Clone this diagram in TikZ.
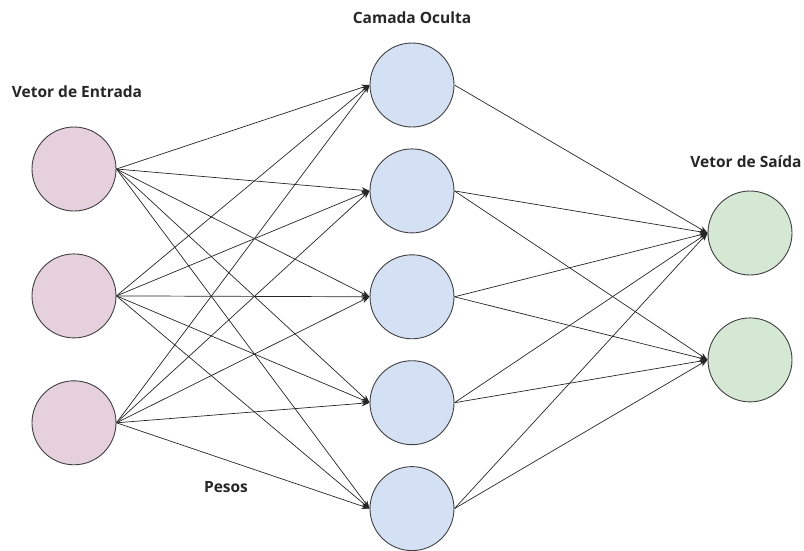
\documentclass[tikz,border=0pt]{standalone}
\usepackage{fontspec}
\setmainfont{Open Sans}
\usetikzlibrary{arrows.meta, positioning}

\definecolor{inpink}{HTML}{E6D0DE}
\definecolor{hidblue}{HTML}{D4E1F5}
\definecolor{outgreen}{HTML}{D5E8D4}

\begin{document}
\begin{tikzpicture}[
    x=1pt, y=-1pt,
    neuron/.style={draw=black!75, circle, minimum size=84pt, inner sep=0pt, line width=0.9pt},
    inp/.style={neuron, fill=inpink},
    hid/.style={neuron, fill=hidblue},
    outp/.style={neuron, fill=outgreen},
    arrow/.style={-{Stealth[length=8pt, width=6pt]}, line width=0.7pt, draw=black!85},
    label/.style={font=\fontsize{15.5}{18}\selectfont\bfseries, text=black!85} %layer names
]
\useasboundingbox (0,0) rectangle (804,550);

% input layer
\node[inp] (in1) at (74,169) {};
\node[inp, below=42pt of in1] (in2) {};
\node[inp, below=42pt of in2] (in3) {};

% hidden layer
\node[hid] (hid1) at (412,85) {};
\node[hid, below=21pt of hid1] (hid2) {};
\node[hid, below=21pt of hid2] (hid3) {};
\node[hid, below=21pt of hid3] (hid4) {};
\node[hid, below=21pt of hid4] (hid5) {};

% output layer
\node[outp] (out1) at (750,233) {};
\node[outp, below=42pt of out1] (out2) {};

\foreach \i in {1,2,3}
    \foreach \j in {1,...,5}
        \draw[arrow] (in\i.east) -- (hid\j.west);

\foreach \from/\to in {1/1, 2/1, 2/2, 3/1, 3/2, 4/1, 4/2, 5/1, 5/2}
    \draw[arrow] (hid\from.east) -- (out\to.west);

\node[label] (lblin) at (77,92) {Vetor de Entrada};
\node[label] (lblhid) at (412,18) {Camada Oculta};
\node[label] (lblout) at (746,162) {Vetor de Saída};
\node[label] (lblw) at (226,487) {Pesos};

\end{tikzpicture}
\end{document}
